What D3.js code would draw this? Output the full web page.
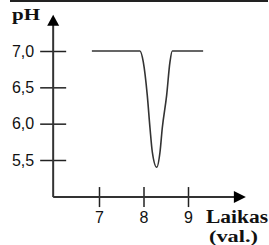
<!DOCTYPE html>
<html>
<head>
<meta charset="utf-8">
<script src="https://cdn.jsdelivr.net/npm/d3@7"></script>
<style>
  body { margin: 0; background: #fff; }
  svg { display: block; }
  .tick text { font-family: 'Liberation Sans', Arial, sans-serif; font-size: 16px; fill: #111; }
  .lbl { font-family: 'Liberation Serif', 'Times New Roman', serif; font-weight: bold; fill: #111; }
</style>
</head>
<body>
<div id="root"></div>
<script>
// time (val.) and pH
const hours = [6.84, 7.92, 7.995, 8.085, 8.146, 8.198, 8.297, 8.371, 8.422, 8.52, 8.595, 8.647, 9.34];
const phValues = [7.0, 7.0, 6.85, 6.39, 5.94, 5.61, 5.40, 5.61, 5.94, 6.39, 6.85, 7.0, 7.0];
const xTicks = [7, 8, 9];
const yTicks = [5.5, 6.0, 6.5, 7.0];
const xLimits = [5.97, 10.3];
const yLimits = [4.99, 7.5];

const width = 269;
const height = 245;

const svg = d3.select('#root')
  .append('svg')
  .attr('width', width)
  .attr('height', height);

const xScale = d3.scaleLinear().domain([7, 9]).range([99, 188]);
const yScale = d3.scaleLinear().domain([5.5, 7]).range([160, 51]);

const comma = d3.formatLocale({ decimal: ',', thousands: ' ', grouping: [3], currency: ['', ''] });

// line across the top
svg.append('line')
  .attr('x1', 10).attr('x2', 268)
  .attr('y1', 1).attr('y2', 1)
  .attr('stroke', '#222')
  .attr('stroke-width', 2);

const x0 = xScale(xLimits[0]);
const y0 = yScale(yLimits[0]);

// y axis
const yAxis = d3.axisLeft(yScale)
  .tickValues(yTicks)
  .tickSize(13)
  .tickPadding(6)
  .tickFormat(comma.format('.1f'));
const gy = svg.append('g')
  .attr('transform', `translate(${x0},0)`)
  .call(yAxis);
gy.select('.domain').remove();
gy.selectAll('.tick line').attr('x1', 13).attr('stroke', '#222').attr('stroke-width', 1.5);

// x axis
const xAxis = d3.axisBottom(xScale)
  .tickValues(xTicks)
  .tickSize(10)
  .tickPadding(5)
  .tickFormat(d3.format('d'));
const gx = svg.append('g')
  .attr('transform', `translate(0,${y0})`)
  .call(xAxis);
gx.select('.domain').remove();
gx.selectAll('.tick line').attr('y1', -10).attr('stroke', '#222').attr('stroke-width', 1.5);

// axis lines
svg.append('line')
  .attr('x1', x0).attr('x2', x0)
  .attr('y1', y0).attr('y2', yScale(yLimits[1]) + 8)
  .attr('stroke', '#333').attr('stroke-width', 2);
svg.append('line')
  .attr('x1', x0).attr('x2', xScale(xLimits[1]) - 8)
  .attr('y1', y0).attr('y2', y0)
  .attr('stroke', '#333').attr('stroke-width', 2);

// arrow heads
const yTop = yScale(yLimits[1]);
svg.append('path')
  .attr('d', `M${x0},${yTop} L${x0 - 6},${yTop + 11} L${x0 + 6},${yTop + 11} Z`)
  .attr('fill', '#000');
const xEnd = xScale(xLimits[1]);
svg.append('path')
  .attr('d', `M${xEnd},${y0} L${xEnd - 12},${y0 - 6} L${xEnd - 12},${y0 + 6} Z`)
  .attr('fill', '#000');

// curve
const line = d3.line()
  .x((d, i) => xScale(hours[i]))
  .y((d) => yScale(d))
  .curve(d3.curveMonotoneX);
svg.append('path')
  .datum(phValues)
  .attr('d', line)
  .attr('fill', 'none')
  .attr('stroke', '#333')
  .attr('stroke-width', 1.6);

// labels
svg.append('text')
  .attr('class', 'lbl')
  .attr('x', 12).attr('y', 20)
  .attr('font-size', 16)
  .attr('textLength', 28)
  .attr('lengthAdjust', 'spacingAndGlyphs')
  .text('pH');
svg.append('text')
  .attr('class', 'lbl')
  .attr('x', 206).attr('y', 223)
  .attr('font-size', 18)
  .attr('textLength', 62)
  .attr('lengthAdjust', 'spacingAndGlyphs')
  .text('Laikas');
svg.append('text')
  .attr('class', 'lbl')
  .attr('x', 209).attr('y', 242)
  .attr('font-size', 16)
  .attr('textLength', 49)
  .attr('lengthAdjust', 'spacingAndGlyphs')
  .text('(val.)');
</script>
</body>
</html>
